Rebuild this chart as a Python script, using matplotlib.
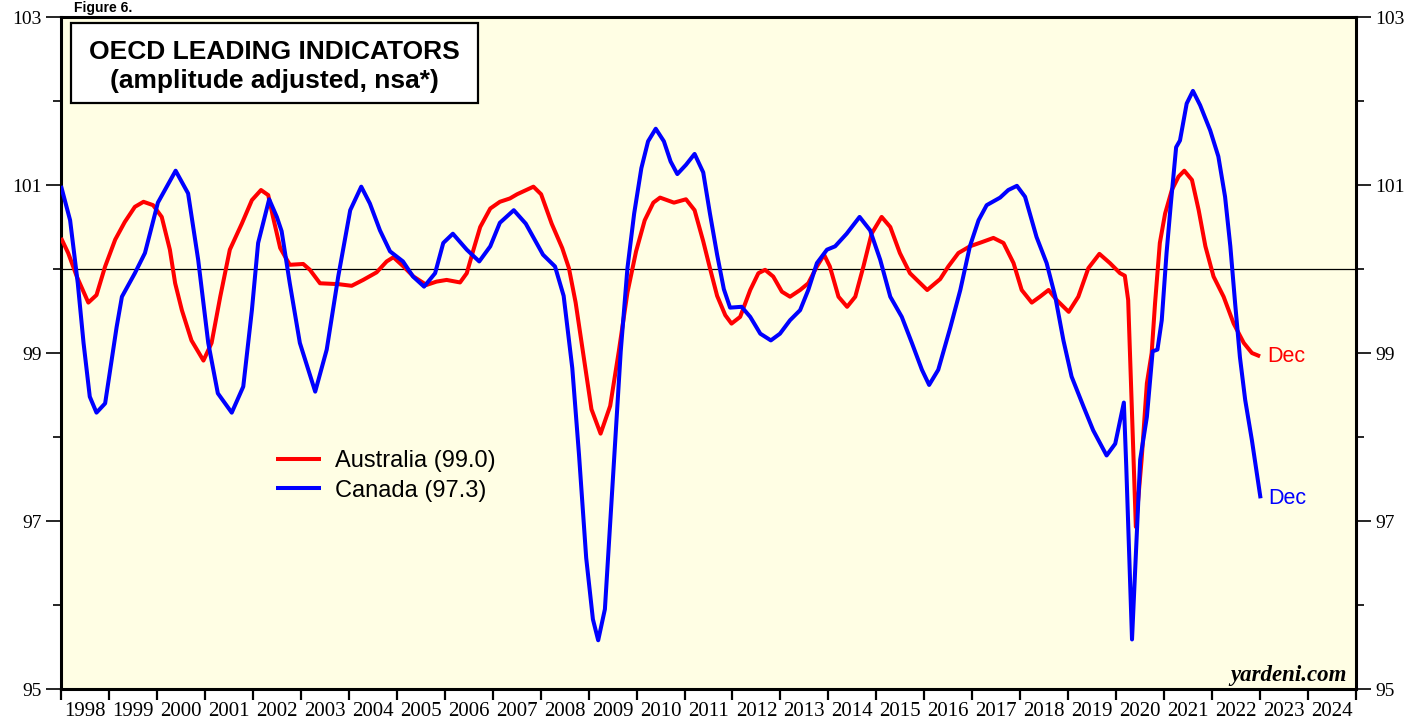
import matplotlib
matplotlib.use("Agg")
import matplotlib.pyplot as plt
from matplotlib.patches import Rectangle
from matplotlib.ticker import FixedLocator, NullFormatter, FixedFormatter

# ---- data (decimal year, index value) ----
aus_t = [1998.00, 1998.15, 1998.33, 1998.57, 1998.74, 1998.92, 1999.13, 1999.33, 1999.54, 1999.72,
         1999.92, 2000.10, 2000.27, 2000.38, 2000.52, 2000.72, 2000.97, 2001.14, 2001.32, 2001.52,
         2001.77, 2001.98, 2002.17, 2002.32, 2002.42, 2002.57, 2002.77, 2003.05, 2003.19, 2003.40,
         2003.78, 2004.06, 2004.30, 2004.58, 2004.79, 2004.93, 2005.14, 2005.35, 2005.62, 2005.83,
         2006.04, 2006.32, 2006.46, 2006.60, 2006.74, 2006.95, 2007.15, 2007.36, 2007.51, 2007.85,
         2008.01, 2008.23, 2008.45, 2008.59, 2008.73, 2008.88, 2009.06, 2009.25, 2009.45, 2009.63,
         2009.81, 2009.99, 2010.17, 2010.35, 2010.49, 2010.78, 2011.03, 2011.21, 2011.39, 2011.53,
         2011.68, 2011.85, 2011.98, 2012.16, 2012.37, 2012.54, 2012.68, 2012.85, 2013.03, 2013.20,
         2013.41, 2013.58, 2013.76, 2013.91, 2014.03, 2014.21, 2014.39, 2014.56, 2014.73, 2014.90,
         2015.11, 2015.29, 2015.49, 2015.70, 2016.06, 2016.33, 2016.50, 2016.71, 2016.95, 2017.20,
         2017.44, 2017.65, 2017.86, 2018.03, 2018.24, 2018.41, 2018.59, 2018.76, 2019.01, 2019.21,
         2019.42, 2019.65, 2019.87, 2020.08, 2020.18, 2020.25, 2020.41, 2020.53, 2020.64, 2020.74,
         2020.81, 2020.91, 2021.02, 2021.16, 2021.30, 2021.42, 2021.58, 2021.72, 2021.86, 2022.03,
         2022.24, 2022.45, 2022.66, 2022.83, 2023.00]
aus_v = [100.37, 100.19, 99.91, 99.60, 99.69, 100.03, 100.35, 100.56, 100.74, 100.80,
         100.76, 100.62, 100.23, 99.83, 99.51, 99.15, 98.91, 99.12, 99.67, 100.23,
         100.54, 100.82, 100.94, 100.88, 100.62, 100.25, 100.05, 100.06, 99.99, 99.83,
         99.82, 99.80, 99.87, 99.96, 100.09, 100.14, 100.03, 99.91, 99.81, 99.85,
         99.87, 99.84, 99.95, 100.23, 100.50, 100.72, 100.80, 100.84, 100.89, 100.98,
         100.89, 100.54, 100.25, 100.01, 99.60, 99.02, 98.33, 98.04, 98.37, 99.02,
         99.72, 100.21, 100.58, 100.79, 100.85, 100.79, 100.83, 100.70, 100.33, 100.01,
         99.68, 99.45, 99.35, 99.43, 99.75, 99.95, 99.99, 99.91, 99.73, 99.67,
         99.75, 99.83, 100.03, 100.17, 100.03, 99.67, 99.55, 99.67, 100.03, 100.42,
         100.62, 100.50, 100.19, 99.95, 99.75, 99.88, 100.03, 100.19, 100.27, 100.32,
         100.37, 100.31, 100.07, 99.75, 99.60, 99.67, 99.75, 99.63, 99.49, 99.67,
         100.01, 100.18, 100.07, 99.95, 99.92, 99.63, 96.93, 97.73, 98.64, 99.00,
         99.59, 100.31, 100.66, 100.94, 101.10, 101.17, 101.06, 100.70, 100.27, 99.91,
         99.67, 99.35, 99.12, 99.00, 98.96]

can_t = [1998.00, 1998.19, 1998.35, 1998.47, 1998.60, 1998.74, 1998.92, 1999.16, 1999.27, 1999.54,
         1999.75, 2000.02, 2000.39, 2000.65, 2000.86, 2001.07, 2001.27, 2001.56, 2001.80, 2001.98,
         2002.11, 2002.34, 2002.50, 2002.60, 2002.77, 2002.98, 2003.30, 2003.54, 2003.78, 2004.03,
         2004.26, 2004.44, 2004.65, 2004.86, 2005.13, 2005.34, 2005.57, 2005.80, 2005.97, 2006.17,
         2006.46, 2006.72, 2006.95, 2007.15, 2007.44, 2007.69, 2008.05, 2008.30, 2008.48, 2008.66,
         2008.80, 2008.95, 2009.09, 2009.20, 2009.34, 2009.45, 2009.56, 2009.67, 2009.81, 2009.95,
         2010.10, 2010.24, 2010.40, 2010.57, 2010.71, 2010.85, 2011.03, 2011.21, 2011.39, 2011.53,
         2011.68, 2011.82, 2011.95, 2012.19, 2012.37, 2012.58, 2012.80, 2012.99, 2013.20, 2013.41,
         2013.58, 2013.76, 2013.97, 2014.14, 2014.38, 2014.65, 2014.87, 2015.08, 2015.29, 2015.53,
         2015.74, 2015.95, 2016.10, 2016.29, 2016.54, 2016.75, 2016.95, 2017.13, 2017.30, 2017.58,
         2017.75, 2017.93, 2018.10, 2018.34, 2018.55, 2018.73, 2018.90, 2019.07, 2019.32, 2019.52,
         2019.80, 2019.98, 2020.16, 2020.21, 2020.33, 2020.50, 2020.64, 2020.76, 2020.86, 2020.95,
         2021.05, 2021.14, 2021.25, 2021.33, 2021.47, 2021.60, 2021.75, 2021.96, 2022.13, 2022.27,
         2022.38, 2022.48, 2022.58, 2022.69, 2022.83, 2023.01]
can_v = [100.99, 100.58, 99.83, 99.12, 98.48, 98.29, 98.40, 99.31, 99.67, 99.95,
         100.19, 100.79, 101.17, 100.90, 100.11, 99.12, 98.52, 98.29, 98.60, 99.51,
         100.31, 100.83, 100.62, 100.45, 99.83, 99.12, 98.54, 99.04, 99.91, 100.70,
         100.98, 100.78, 100.46, 100.21, 100.09, 99.91, 99.79, 99.95, 100.31, 100.42,
         100.23, 100.09, 100.27, 100.55, 100.70, 100.54, 100.17, 100.03, 99.68, 98.82,
         97.79, 96.56, 95.83, 95.58, 95.95, 96.98, 98.00, 99.02, 100.01, 100.66,
         101.20, 101.52, 101.67, 101.52, 101.28, 101.13, 101.24, 101.37, 101.15, 100.66,
         100.17, 99.76, 99.54, 99.55, 99.43, 99.23, 99.15, 99.23, 99.39, 99.51,
         99.75, 100.07, 100.23, 100.27, 100.42, 100.62, 100.46, 100.11, 99.67, 99.43,
         99.12, 98.80, 98.62, 98.80, 99.30, 99.75, 100.27, 100.58, 100.76, 100.85,
         100.94, 100.99, 100.86, 100.38, 100.07, 99.67, 99.15, 98.72, 98.36, 98.08,
         97.78, 97.92, 98.41, 97.65, 95.59, 97.73, 98.24, 99.02, 99.04, 99.39,
         100.19, 100.78, 101.45, 101.53, 101.97, 102.12, 101.95, 101.65, 101.34, 100.86,
         100.27, 99.59, 98.95, 98.44, 97.96, 97.27]

years = list(range(1998, 2025))
aus_label = "Australia (99.0)"
can_label = "Canada (97.3)"

BG = "#FFFEE4"
SERIF = ["Liberation Serif", "DejaVu Serif"]
SANS = ["Liberation Sans", "DejaVu Sans"]

fig = plt.figure(figsize=(14.27, 7.21), dpi=100)
ax = fig.add_axes([61 / 1427, 32 / 721, 1295 / 1427, 672 / 721])
ax.set_facecolor(BG)

ax.axhline(100, color="black", lw=0.9, zorder=1)
ax.plot(aus_t, aus_v, color="#FF0000", lw=2.9, label=aus_label, zorder=3,
        solid_joinstyle="round", solid_capstyle="butt")
ax.plot(can_t, can_v, color="#0000FF", lw=2.9, label=can_label, zorder=4,
        solid_joinstyle="round", solid_capstyle="butt")

ax.set_xlim(1998, 2025)
ax.set_ylim(95, 103)

for s in ax.spines.values():
    s.set_linewidth(2.2)

# x axis: tick marks at year boundaries, labels centred in each year
ax.xaxis.set_major_locator(FixedLocator(range(1998, 2026)))
ax.xaxis.set_major_formatter(NullFormatter())
ax.xaxis.set_minor_locator(FixedLocator([y + 0.5 for y in years]))
ax.xaxis.set_minor_formatter(FixedFormatter([str(y) for y in years]))
ax.tick_params(axis="x", which="major", direction="out", length=8, width=1.6)
ax.tick_params(axis="x", which="minor", length=0, pad=9, labelsize=15)

# y axis on both sides
ax.set_yticks([95, 97, 99, 101, 103])
ax.set_yticks(range(95, 104), minor=True)
ax.tick_params(axis="y", which="major", direction="out", length=11, width=1.2,
               left=True, right=True, labelleft=True, labelright=True, labelsize=14, pad=3)
ax.tick_params(axis="y", which="minor", direction="out", length=6, width=1.2,
               left=True, right=True)

for lab in ax.get_xticklabels(minor=True):
    lab.set_family(SERIF)
for t in ax.yaxis.get_major_ticks():
    t.label1.set_family(SERIF)
    t.label2.set_family(SERIF)

# title box
ax.add_patch(Rectangle((10 / 1295, 586 / 672), 407 / 1295, 80 / 672, transform=ax.transAxes,
                       facecolor="white", edgecolor="black", lw=1.6, zorder=5))
ax.text(0.1649, 0.948, "OECD LEADING INDICATORS", transform=ax.transAxes, ha="center",
        va="center", fontsize=19, fontweight="bold", family=SANS, zorder=6)
ax.text(0.1649, 0.905, "(amplitude adjusted, nsa*)", transform=ax.transAxes, ha="center",
        va="center", fontsize=19, fontweight="bold", family=SANS, zorder=6)

# legend
leg = ax.legend(loc="upper left", bbox_to_anchor=(0.166, 0.355), frameon=False,
                handlelength=1.9, handletextpad=0.6, labelspacing=0.3,
                borderpad=0, borderaxespad=0, prop={"family": SANS, "size": 17})

# end labels
ax.annotate("Dec", (aus_t[-1], aus_v[-1]), xytext=(5.5, 0), textcoords="offset points",
            color="#FF0000", fontsize=15.5, family=SANS, va="center", ha="left")
ax.annotate("Dec", (can_t[-1], can_v[-1]), xytext=(5.5, 0), textcoords="offset points",
            color="#0000FF", fontsize=15.5, family=SANS, va="center", ha="left")

ax.text(0.993, 0.012, "yardeni.com", transform=ax.transAxes, ha="right", va="baseline",
        fontsize=16.5, fontweight="bold", style="italic", family=SERIF)

fig.text(0.052, 0.999, "Figure 6.", ha="left", va="top", fontsize=10,
         fontweight="bold", family=SANS)

fig.savefig("out.png", dpi=100, facecolor="white")
